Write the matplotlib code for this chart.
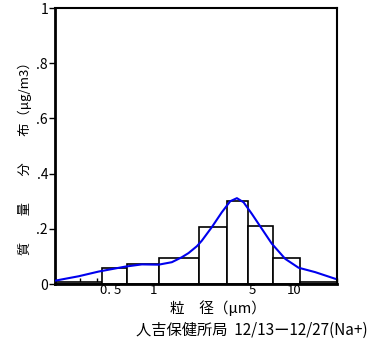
import matplotlib
matplotlib.use("Agg")
import matplotlib.pyplot as plt
from matplotlib.ticker import FixedLocator, LogLocator, NullFormatter

plt.rcParams['font.family'] = ['Noto Sans CJK JP', 'DejaVu Sans']

# bin edges (µm) and bar heights (µg/m3)
bin_edges = [0.2, 0.43, 0.65, 1.1, 2.1, 3.3, 4.7, 7.0, 11.0, 20.0]
bar_values = [0.009, 0.059, 0.073, 0.093, 0.207, 0.300, 0.209, 0.093, 0.007]

# fitted curve points
curve_x = [0.2, 0.294, 0.407, 0.63, 0.826, 1.085, 1.348, 1.587, 1.77, 2.03, 2.20, 2.59,
           3.05, 3.50, 3.90, 4.35, 4.98, 5.86, 6.90, 8.59, 10.67, 14.0, 19.4]
curve_y = [0.012, 0.028, 0.045, 0.063, 0.071, 0.070, 0.079, 0.097, 0.112, 0.137, 0.157, 0.206,
           0.260, 0.300, 0.311, 0.296, 0.254, 0.200, 0.146, 0.091, 0.059, 0.043, 0.019]

x_ticks = [0.5, 1, 5, 10]
x_ticklabels = ['0. 5', '1', '5', '10']
y_ticks = [0, 0.2, 0.4, 0.6, 0.8, 1.0]
y_ticklabels = ['0', '.2', '.4', '.6', '.8', '1']

fig = plt.figure(figsize=(3.88, 3.49), dpi=100)
ax = fig.add_axes([55/388, 1 - 284/349, 282/388, 276/349])

lefts = bin_edges[:-1]
widths = [b - a for a, b in zip(bin_edges[:-1], bin_edges[1:])]
ax.bar(lefts, bar_values, width=widths, align='edge', facecolor='white',
       edgecolor='black', linewidth=1.2, zorder=2)
ax.plot(curve_x, curve_y, color='#0000ee', linewidth=1.5, zorder=3)

ax.set_xscale('log')
ax.set_xlim(0.2, 20)
ax.set_ylim(0, 1)
ax.xaxis.set_major_locator(FixedLocator(x_ticks))
ax.set_xticklabels(x_ticklabels)
ax.xaxis.set_minor_locator(LogLocator(base=10, subs=(2, 3, 4, 6, 7, 8, 9)))
ax.xaxis.set_minor_formatter(NullFormatter())
ax.set_yticks(y_ticks)
ax.set_yticklabels(y_ticklabels)

ax.tick_params(axis='x', which='major', direction='in', length=6, width=1, labelsize=9.5, pad=0)
ax.tick_params(axis='x', which='minor', direction='in', length=4, width=1)
ax.tick_params(axis='y', direction='out', length=4, width=1, labelsize=10, pad=1)

ax.spines['left'].set_linewidth(2)
ax.spines['bottom'].set_linewidth(2)
ax.spines['top'].set_linewidth(1.5)
ax.spines['right'].set_linewidth(1.5)

fig.text(218/388, 1 - 308/349, '粒　径（μm）', ha='center', va='center', fontsize=10.5)
fig.text(25/388, 1 - 155/349, '質　　量　　分　　布（μg/m3）', ha='center', va='center',
         rotation=90, fontsize=9.5)
fig.text(252/388, 1 - 330/349, '人吉保健所局  12/13ー12/27(Na+)', ha='center', va='center',
         fontsize=11)

fig.savefig('out.png', dpi=100)
